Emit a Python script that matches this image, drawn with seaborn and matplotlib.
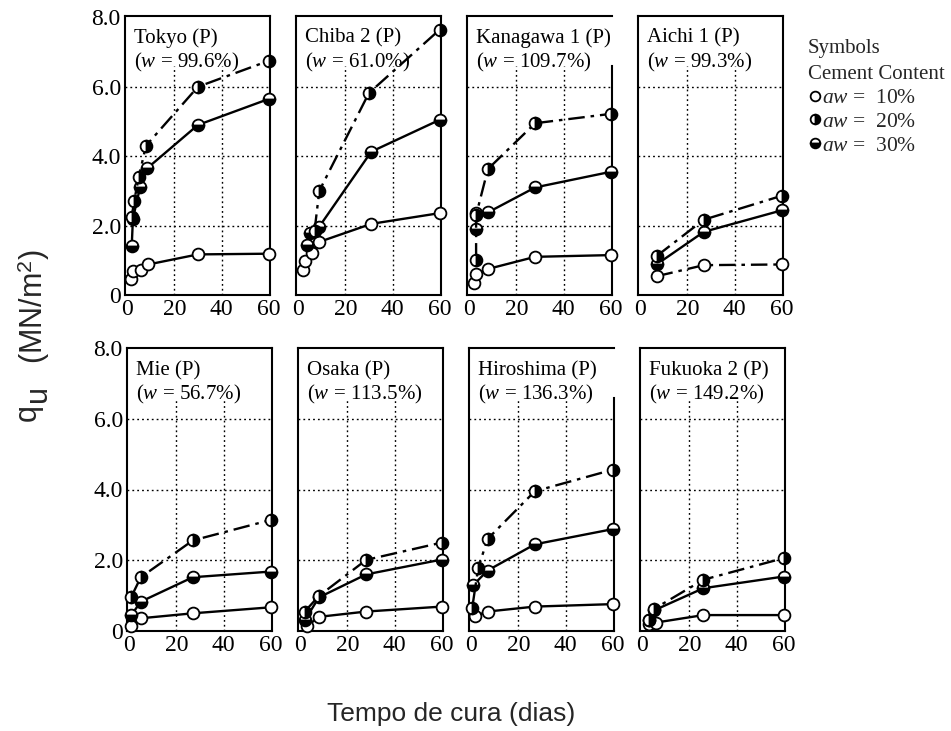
import matplotlib
matplotlib.use("Agg")
import matplotlib.pyplot as plt
from matplotlib.lines import Line2D
import seaborn as sns

# ---------------- data (curing days, qu in MN/m2) ----------------
panel_names = ["Tokyo (P)", "Chiba 2 (P)", "Kanagawa 1 (P)", "Aichi 1 (P)",
               "Mie (P)", "Osaka (P)", "Hiroshima (P)", "Fukuoka 2 (P)"]
panel_w = ["99.6%", "61.0%", "109.7%", "99.3%", "56.7%", "113.5%", "136.3%", "149.2%"]

tokyo = {
    "10": ([1.5, 2.5, 6, 9, 30, 60], [0.45, 0.68, 0.72, 0.88, 1.17, 1.19]),
    "20": ([2, 3, 5, 8, 30, 60], [2.25, 2.7, 3.4, 4.3, 6.0, 6.75]),
    "30": ([2, 2.5, 5.5, 8.5, 30, 60], [1.42, 2.2, 3.1, 3.65, 4.9, 5.65]),
}
chiba = {
    "10": ([2, 3, 6, 9, 31, 60], [0.72, 0.97, 1.2, 1.53, 2.05, 2.36]),
    "20": ([7, 9, 30, 60], [1.85, 3.0, 5.82, 7.65]),
    "30": ([4, 5, 9, 31, 60], [1.45, 1.78, 1.97, 4.13, 5.05]),
}
kanagawa = {
    "10": ([2, 3, 8, 28, 60], [0.35, 0.6, 0.75, 1.1, 1.15]),
    "20": ([3, 3, 8, 28, 60], [1.02, 2.3, 3.63, 4.95, 5.22]),
    "30": ([3, 3, 8, 28, 60], [1.9, 2.37, 2.38, 3.1, 3.55]),
}
aichi = {
    "10": ([7, 27, 60], [0.54, 0.86, 0.88]),
    "20": ([7, 27, 60], [1.12, 2.17, 2.86]),
    "30": ([7, 27, 60], [0.88, 1.82, 2.44]),
}
mie = {
    "10": ([1, 5, 27, 60], [0.14, 0.36, 0.5, 0.67]),
    "20": ([1, 5, 27, 60], [0.97, 1.52, 2.56, 3.14]),
    "30": ([1, 5, 27, 60], [0.45, 0.83, 1.52, 1.68]),
}
osaka = {
    "10": ([3, 8, 28, 60], [0.14, 0.4, 0.55, 0.69]),
    "20": ([2, 8, 28, 60], [0.55, 0.99, 2.01, 2.5]),
    "30": ([2, 8, 28, 60], [0.3, 0.95, 1.6, 2.02]),
}
hiroshima = {
    "10": ([1.5, 7, 27, 60], [0.42, 0.55, 0.69, 0.76]),
    "20": ([0.5, 3, 7, 27, 60], [0.65, 1.77, 2.6, 3.95, 4.56]),
    "30": ([1, 7, 27, 60], [1.3, 1.71, 2.45, 2.88]),
}
fukuoka = {
    "10": ([3, 6, 26, 60], [0.2, 0.24, 0.45, 0.45]),
    "20": ([3, 5, 26, 60], [0.3, 0.62, 1.45, 2.06]),
    "30": ([3, 5, 26, 60], [0.32, 0.58, 1.21, 1.54]),
}
panels = [tokyo, chiba, kanagawa, aichi, mie, osaka, hiroshima, fukuoka]
# line style of the aw=10% series per panel (Aichi uses dash-dot)
style_10 = ["solid", "solid", "solid", "dashdot", "solid", "solid", "solid", "solid"]

x_ticks = [0, 20, 40, 60]
y_ticks = [0, 2, 4, 6, 8]
y_ticklabels = ["0", "2.0", "4.0", "6.0", "8.0"]
grid_x = [20, 40]
grid_y = [2, 4, 6]
legend_labels = [r"$\mathit{aw}$ =  10%", r"$\mathit{aw}$ =  20%", r"$\mathit{aw}$ =  30%"]

# ---------------- styling ----------------
sns.set_theme(style="white")
plt.rcParams.update({
    "font.family": ["Liberation Serif", "DejaVu Serif"],
    "mathtext.fontset": "custom",
    "mathtext.rm": "Liberation Serif",
    "mathtext.it": "Liberation Serif:italic",
    "mathtext.sf": "Liberation Sans",
})

DASHDOT = (0, (7, 2.5, 1.5, 2.5))
DOT = (0, (1.3, 2.2))
marker_style = {
    "10": dict(fillstyle="full", mfc="white"),
    "20": dict(fillstyle="right", mfc="black", markerfacecoloralt="white"),
    "30": dict(fillstyle="bottom", mfc="black", markerfacecoloralt="white"),
}

fig = plt.figure(figsize=(9.51, 7.31), dpi=100)
W, H = 951.0, 731.0
top_lefts = [125, 296, 467, 638]
bot_lefts = [127, 298, 469, 640]
pw = 145

for i, data in enumerate(panels):
    if i < 4:
        left = top_lefts[i]
        ax = fig.add_axes([left / W, 1 - 295 / H, pw / W, 279 / H])
        ax.set_ylim(0, 8.04)
    else:
        left = bot_lefts[i - 4]
        ax = fig.add_axes([left / W, 1 - 631 / H, pw / W, 283 / H])
        ax.set_ylim(0, 8.0)
    ax.set_xlim(-0.85, 60.5)

    # grid
    ax.hlines(grid_y, -0.85, 60.5, colors="black", linestyles=DOT, lw=1.0, zorder=1)
    ax.vlines(grid_x, 0, 6.6, colors="black", linestyles=DOT, lw=1.0, zorder=1)

    for key in ["10", "30", "20"]:
        d, q = data[key]
        if key == "10":
            ls = DASHDOT if style_10[i] == "dashdot" else "-"
        elif key == "20":
            ls = DASHDOT
        else:
            ls = "-"
        sns.lineplot(x=d, y=q, ax=ax, color="black", lw=1.7, ls=ls,
                     marker="o", ms=8.5, mec="black", mew=1.3,
                     estimator=None, sort=False, legend=False, zorder=3,
                     clip_on=False, **marker_style[key])

    ax.set_xticks(x_ticks)
    ax.set_xticklabels([str(t) for t in x_ticks])
    ax.set_yticks(y_ticks)
    if i in (0, 4):
        ax.set_yticklabels(y_ticklabels)
    else:
        ax.set_yticklabels([])
    ax.tick_params(length=0, labelsize=17, pad=3, colors="black")
    ax.set_xlabel("")
    ax.set_ylabel("")
    for s in ax.spines.values():
        s.set_color("black")
        s.set_linewidth(1.5)
        s.set_visible(True)
    if i in (2, 6):
        ax.spines["right"].set_bounds(0, 6.6)

    ax.text(0.065, 0.955, panel_names[i], transform=ax.transAxes,
            ha="left", va="top", fontsize=15, color="black")
    ax.text(0.065, 0.875, r"($\mathit{w}$ = " + panel_w[i] + ")", transform=ax.transAxes,
            ha="left", va="top", fontsize=15, color="black")

# legend
fig.text(808 / W, 1 - 53 / H, "Symbols", ha="left", va="baseline", fontsize=15)
fig.text(808 / W, 1 - 79 / H, "Cement Content", ha="left", va="baseline", fontsize=15)
handles = [Line2D([], [], ls="none", marker="o", ms=7.0, mec="black", mew=1.3,
                  **marker_style[k]) for k in ["10", "20", "30"]]
fig.legend(handles, legend_labels,
           loc="upper left", bbox_to_anchor=(807 / W, 1 - 86 / H),
           frameon=False, fontsize=15.5, borderaxespad=0,
           handlelength=0.5, handletextpad=0.1, labelspacing=0.17,
           borderpad=0.1)

# axis titles
fig.text(28 / W, 1 - 413 / H, "q", rotation=90, ha="center", va="center",
         fontsize=22, family="Liberation Sans")
fig.text(38 / W, 1 - 393 / H, "u", rotation=90, ha="center", va="center",
         fontsize=22, family="Liberation Sans")
fig.text(34 / W, 1 - 307 / H, r"(MN/m$^\mathsf{2}$)", rotation=90,
         ha="center", va="center", fontsize=22, family="Liberation Sans")
fig.text(451 / W, 1 - 714 / H, "Tempo de cura (dias)",
         ha="center", va="center", fontsize=19, family="Liberation Sans")

fig.savefig("out.png", dpi=100, facecolor="white")
